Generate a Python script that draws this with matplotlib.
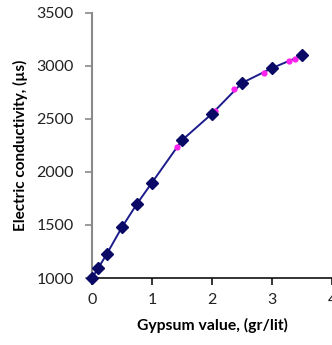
import matplotlib
matplotlib.use("Agg")
import matplotlib.pyplot as plt

gypsum = [0, 0.1, 0.25, 0.5, 0.75, 1.0, 1.5, 2.0, 2.5, 3.0, 3.5]
conductivity = [1000, 1090, 1230, 1480, 1700, 1900, 2300, 2550, 2840, 2980, 3100]

extra_x = [0.76, 1.41, 2.05, 2.37, 2.86, 3.29, 3.38]
extra_y = [1710, 2235, 2580, 2780, 2930, 3045, 3068]

x_ticks = [0, 1, 2, 3, 4]
y_ticks = [1000, 1500, 2000, 2500, 3000, 3500]

plt.rcParams['font.family'] = ['Lato', 'DejaVu Sans']

fig = plt.figure(figsize=(3.32, 3.45), dpi=100)
ax = fig.add_axes([92/332, 67/345, 240/332, 265/345])

ax.plot(gypsum, conductivity, color='#1c1c8c', lw=1.4, zorder=2, clip_on=False)
ax.plot(extra_x, extra_y, 'o', color='#ff22ee', ms=4.5, mec='none', zorder=3, clip_on=False)
ax.plot(gypsum, conductivity, 'D', color='#0a0a66', ms=6.5, mec='#0a0a66', zorder=4, clip_on=False, ls='none')

ax.set_xlim(0, 4)
ax.set_ylim(1000, 3500)
ax.set_xticks(x_ticks)
ax.set_yticks(y_ticks)
ax.set_xticklabels([str(t) for t in x_ticks])
ax.set_yticklabels([str(t) for t in y_ticks])

for s in ['top', 'right']:
    ax.spines[s].set_visible(False)
ax.spines['left'].set_color('#8a8a8a')
ax.spines['left'].set_linewidth(1.5)
ax.spines['bottom'].set_color('#111111')
ax.spines['bottom'].set_linewidth(1.2)

ax.tick_params(axis='y', direction='out', length=5, width=1.2, color='#8a8a8a', pad=8, labelsize=11.5, labelcolor='#222222')
ax.tick_params(axis='x', direction='out', length=5, width=1.2, color='#111111', pad=6, labelsize=11.5, labelcolor='#222222')

ax.set_ylabel('Electric conductivity, (µs)', fontsize=11, fontweight='bold', labelpad=6)
ax.set_xlabel('Gypsum value, (gr/lit)', fontsize=11.3, fontweight='bold', labelpad=8)

fig.savefig('out.png', dpi=100)
